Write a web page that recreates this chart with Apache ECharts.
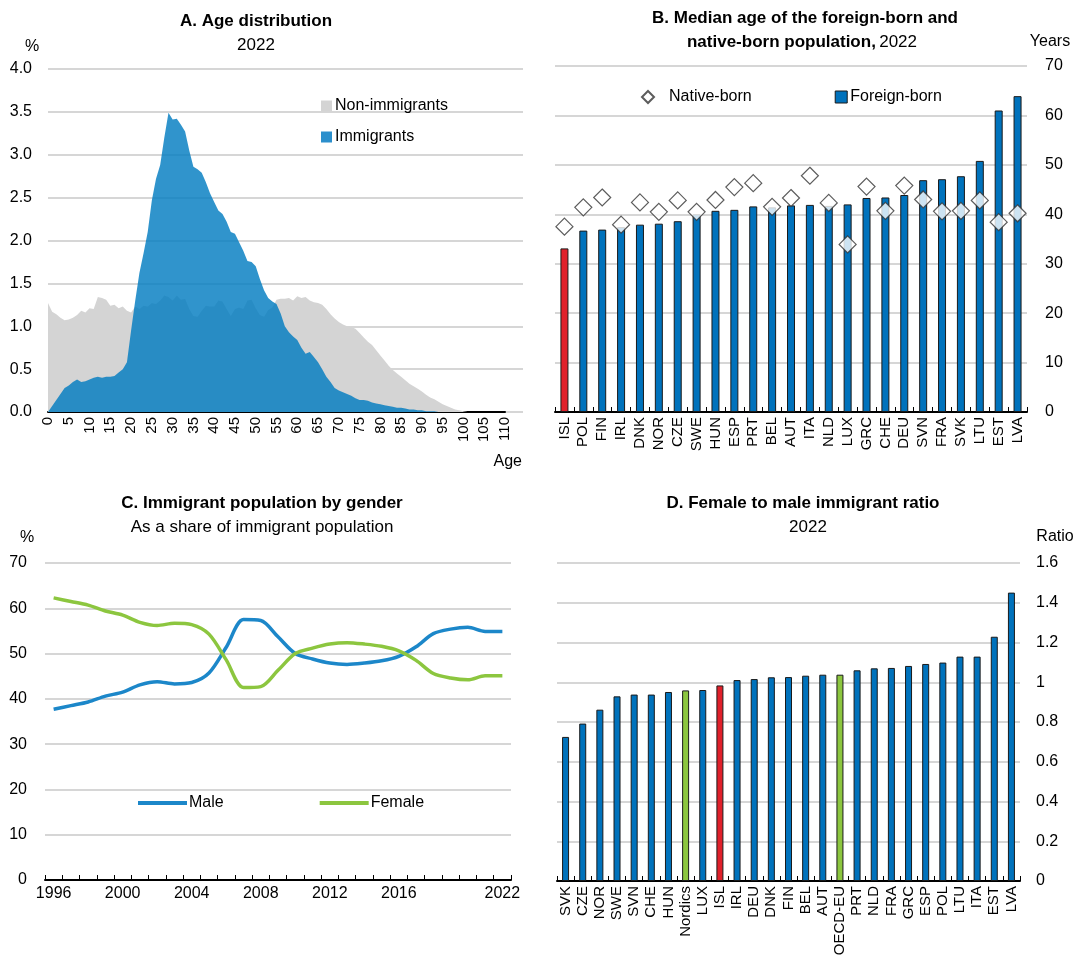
<!DOCTYPE html>
<html>
<head>
<meta charset="utf-8">
<script src="https://cdn.jsdelivr.net/npm/echarts@6/dist/echarts.min.js"></script>
<style>
  html, body { margin: 0; padding: 0; background: #fff; }
  #main { width: 1080px; height: 960px; }
</style>
</head>
<body>
<div id="main"></div>
<script>
// A. age distribution (% of each population, by single year of age)
const ages = Array.from({ length: 111 }, (_, i) => String(i));
const nonImmigrants = [
  1.27, 1.17, 1.14, 1.10, 1.07, 1.08, 1.10, 1.13, 1.18, 1.16,
  1.21, 1.20, 1.34, 1.33, 1.31, 1.24, 1.25, 1.21, 1.23, 1.18,
  1.16, 1.23, 1.20, 1.24, 1.23, 1.27, 1.26, 1.30, 1.36, 1.34,
  1.30, 1.36, 1.31, 1.32, 1.20, 1.12, 1.11, 1.18, 1.24, 1.23,
  1.23, 1.30, 1.29, 1.20, 1.12, 1.20, 1.22, 1.20, 1.30, 1.31,
  1.21, 1.13, 1.11, 1.19, 1.22, 1.31, 1.32, 1.32, 1.33, 1.30,
  1.35, 1.33, 1.34, 1.30, 1.28, 1.27, 1.25, 1.20, 1.14, 1.09,
  1.05, 1.02, 1.00, 0.99, 0.97, 0.92, 0.87, 0.82, 0.78, 0.72,
  0.66, 0.60, 0.54, 0.49, 0.45, 0.41, 0.37, 0.33, 0.30, 0.27,
  0.24, 0.20, 0.17, 0.15, 0.12, 0.09, 0.07, 0.05, 0.03, 0.02,
  0.01, 0, 0, 0, 0, 0, 0, 0, 0, 0, 0
];
const immigrants = [
  0.00, 0.07, 0.14, 0.21, 0.28, 0.31, 0.35, 0.38, 0.35, 0.36,
  0.38, 0.40, 0.41, 0.40, 0.41, 0.41, 0.42, 0.46, 0.50, 0.58,
  0.95, 1.30, 1.62, 1.85, 2.10, 2.47, 2.72, 2.88, 3.20, 3.49,
  3.41, 3.42, 3.35, 3.27, 3.05, 2.86, 2.83, 2.79, 2.68, 2.55,
  2.45, 2.35, 2.31, 2.22, 2.10, 2.08, 1.98, 1.88, 1.76, 1.75,
  1.70, 1.55, 1.42, 1.33, 1.29, 1.26, 1.15, 1.00, 0.93, 0.88,
  0.84, 0.75, 0.68, 0.70, 0.64, 0.58, 0.50, 0.41, 0.35, 0.28,
  0.25, 0.23, 0.21, 0.19, 0.16, 0.14, 0.14, 0.13, 0.11, 0.10,
  0.09, 0.08, 0.07, 0.06, 0.05, 0.05, 0.04, 0.03, 0.03, 0.02,
  0.02, 0.01, 0.01, 0.01, 0, 0, 0, 0, 0, 0,
  0, 0, 0, 0, 0, 0, 0, 0, 0, 0, 0
];

// B. median age (years)
const countriesB = ["ISL", "POL", "FIN", "IRL", "DNK", "NOR", "CZE", "SWE", "HUN", "ESP", "PRT", "BEL", "AUT",
  "ITA", "NLD", "LUX", "GRC", "CHE", "DEU", "SVN", "FRA", "SVK", "LTU", "EST", "LVA"];
const foreignBorn = [33.1, 36.7, 36.9, 37.4, 37.9, 38.1, 38.6, 40.0, 40.7, 40.9, 41.6, 41.4, 41.8,
  41.9, 41.7, 42.0, 43.3, 43.4, 43.9, 46.9, 47.1, 47.7, 50.8, 61.0, 63.9];
const nativeBorn = [37.5, 41.4, 43.4, 37.9, 42.4, 40.5, 42.8, 40.5, 42.9, 45.5, 46.3, 41.5, 43.3,
  47.8, 42.3, 33.9, 45.6, 40.7, 45.8, 43.0, 40.6, 40.7, 42.8, 38.4, 40.2];

// C. immigrant population by gender (% of immigrants)
const years = ["1996", "1997", "1998", "1999", "2000", "2001", "2002", "2003", "2004", "2005", "2006", "2007", "2008",
  "2009", "2010", "2011", "2012", "2013", "2014", "2015", "2016", "2017", "2018", "2019", "2020", "2021", "2022"];
const male = [37.7, 38.5, 39.3, 40.6, 41.5, 43.1, 43.8, 43.3, 43.6, 45.7, 51.4, 57.5, 57.3,
  53.7, 50.0, 48.8, 47.9, 47.6, 47.9, 48.4, 49.4, 51.5, 54.4, 55.4, 55.8, 54.9, 54.9];
const female = [62.3, 61.5, 60.7, 59.4, 58.5, 56.9, 56.2, 56.7, 56.4, 54.3, 48.6, 42.5, 42.7,
  46.3, 50.0, 51.2, 52.1, 52.4, 52.1, 51.6, 50.6, 48.5, 45.6, 44.6, 44.2, 45.1, 45.1];
const yearTicks = ["1996", "2000", "2004", "2008", "2012", "2016", "2022"];

// D. female to male immigrant ratio
const countriesD = ["SVK", "CZE", "NOR", "SWE", "SVN", "CHE", "HUN", "Nordics", "LUX", "ISL", "IRL", "DEU", "DNK",
  "FIN", "BEL", "AUT", "OECD-EU", "PRT", "NLD", "FRA", "GRC", "ESP", "POL", "LTU", "ITA", "EST", "LVA"];
const ratio = [0.725, 0.792, 0.862, 0.929, 0.938, 0.938, 0.951, 0.959, 0.961, 0.984, 1.011, 1.016, 1.025,
  1.026, 1.033, 1.038, 1.038, 1.060, 1.070, 1.072, 1.082, 1.092, 1.099, 1.129, 1.129, 1.229, 1.451];

const FONT = '"Liberation Sans", Arial, sans-serif';
const BLUE = "#0072bc";
const RED = "#e0202a";
const GREEN = "#8cc63f";
const GRID_LINE = { show: true, lineStyle: { color: "#c8c8c8", width: 1.5 } };
const BLACK_AXIS = { show: true, lineStyle: { color: "#000", width: 2 } };

function barColor(name) {
  if (name === "ISL") return RED;
  if (name === "Nordics" || name === "OECD-EU") return GREEN;
  return BLUE;
}

function txt(x, y, text, opts) {
  return {
    type: "text", x: x, y: y,
    style: Object.assign({
      text: text, font: "16px " + FONT, fill: "#000",
      textAlign: "center", textVerticalAlign: "middle"
    }, opts || {})
  };
}

const chart = echarts.init(document.getElementById("main"), null, { renderer: "canvas" });

const option = {
  animation: false,
  backgroundColor: "#fff",
  textStyle: { fontFamily: FONT, color: "#000" },
  grid: [
    { left: 48, top: 69, width: 457, height: 343 },   // A data
    { left: 48, top: 69, width: 475, height: 343 },   // A gridlines
    { left: 555, top: 66, width: 472, height: 346 },  // B
    { left: 45, top: 563, width: 466, height: 317 },  // C
    { left: 557, top: 563, width: 463, height: 318 }  // D
  ],
  xAxis: [
    {
      gridIndex: 0, type: "category", data: ages, boundaryGap: false,
      axisLine: BLACK_AXIS, axisTick: { show: false },
      axisLabel: { interval: 4, rotate: 90, fontSize: 15, color: "#000", margin: 5 },
      splitLine: { show: false }
    },
    { gridIndex: 1, type: "value", show: false },
    {
      gridIndex: 2, type: "category", data: countriesB,
      axisLine: BLACK_AXIS,
      axisTick: { show: true, inside: true, length: 5, lineStyle: { color: "#000" } },
      axisLabel: { interval: 0, rotate: 90, fontSize: 15, color: "#000", margin: 5 }
    },
    {
      gridIndex: 3, type: "category", data: years,
      axisLine: BLACK_AXIS,
      axisTick: { show: true, inside: true, length: 5, interval: 0, lineStyle: { color: "#000" } },
      axisLabel: {
        fontSize: 16, color: "#000", margin: 6,
        interval: (i, v) => yearTicks.includes(v)
      }
    },
    {
      gridIndex: 4, type: "category", data: countriesD,
      axisLine: BLACK_AXIS,
      axisTick: { show: true, inside: true, length: 5, lineStyle: { color: "#000" } },
      axisLabel: { interval: 0, rotate: 90, fontSize: 15, color: "#000", margin: 5 }
    }
  ],
  yAxis: [
    {
      gridIndex: 0, type: "value", min: 0, max: 4, interval: 0.5,
      axisLine: { show: false }, axisTick: { show: false },
      axisLabel: { fontSize: 16, color: "#000", margin: 16, formatter: v => v.toFixed(1) },
      splitLine: { show: false }
    },
    {
      gridIndex: 1, type: "value", min: 0, max: 4, interval: 0.5,
      axisLine: { show: false }, axisTick: { show: false }, axisLabel: { show: false },
      splitLine: GRID_LINE, z: 0
    },
    {
      gridIndex: 2, type: "value", position: "right", min: 0, max: 70, interval: 10,
      axisLine: { show: false }, axisTick: { show: false },
      axisLabel: { fontSize: 16, color: "#000", margin: 18 },
      splitLine: GRID_LINE
    },
    {
      gridIndex: 3, type: "value", min: 0, max: 70, interval: 10,
      axisLine: { show: false }, axisTick: { show: false },
      axisLabel: { fontSize: 16, color: "#000", margin: 18 },
      splitLine: GRID_LINE
    },
    {
      gridIndex: 4, type: "value", position: "right", min: 0, max: 1.6, interval: 0.2,
      axisLine: { show: false }, axisTick: { show: false },
      axisLabel: { fontSize: 16, color: "#000", margin: 16, formatter: v => (v === 0 || v === 1) ? String(v) : v.toFixed(1) },
      splitLine: GRID_LINE
    }
  ],
  legend: [
    {
      data: ["Non-immigrants", "Immigrants"], orient: "vertical",
      left: 316, top: 93, itemWidth: 11, itemHeight: 11, itemGap: 15,
      icon: "rect", textStyle: { fontSize: 16, color: "#000", padding: [0, 0, 0, -2] }
    },
    {
      data: [
        { name: "Native-born", textStyle: { padding: [0, 0, 0, 10] } },
        {
          name: "Foreign-born", icon: "rect",
          itemStyle: { color: BLUE, borderColor: "#1a1a1a", borderWidth: 1 },
          textStyle: { padding: [0, 0, 0, -2] }
        }
      ],
      orient: "horizontal",
      left: 636, top: 84, itemWidth: 12, itemHeight: 12, itemGap: 83,
      textStyle: { fontSize: 16, color: "#000" }
    },
    {
      data: ["Male", "Female"], orient: "horizontal",
      left: 133, top: 790, itemWidth: 49, itemHeight: 4, itemGap: 96,
      icon: "rect", textStyle: { fontSize: 16, color: "#000", padding: [0, 0, 0, -3] }
    }
  ],
  series: [
    {
      name: "Non-immigrants", type: "line", xAxisIndex: 0, yAxisIndex: 0,
      data: nonImmigrants, showSymbol: false, symbol: "none",
      lineStyle: { width: 0 }, itemStyle: { color: "#d4d4d4" },
      areaStyle: { color: "#d4d4d4", opacity: 1 }, z: 2
    },
    {
      name: "Immigrants", type: "line", xAxisIndex: 0, yAxisIndex: 0,
      data: immigrants, showSymbol: false, symbol: "none",
      lineStyle: { width: 0 }, itemStyle: { color: "#2b8fcc" },
      areaStyle: { color: "rgb(3,125,193)", opacity: 0.82 }, z: 3
    },
    {
      name: "Foreign-born", type: "bar", xAxisIndex: 2, yAxisIndex: 2,
      data: foreignBorn, barWidth: 8,
      itemStyle: {
        color: p => barColor(p.name),
        borderColor: "#1a1a1a", borderWidth: 1
      }
    },
    {
      name: "Native-born", type: "scatter", xAxisIndex: 2, yAxisIndex: 2,
      data: nativeBorn, symbol: "diamond", symbolSize: [17, 17],
      itemStyle: { color: "#fff", borderColor: "#333", borderWidth: 1.2 }, z: 5
    },
    {
      name: "Male", type: "line", xAxisIndex: 3, yAxisIndex: 3,
      data: male, showSymbol: false, symbol: "none", smooth: 0.3,
      lineStyle: { width: 3.5, color: "#1c87c9" }, itemStyle: { color: "#1c87c9" }
    },
    {
      name: "Female", type: "line", xAxisIndex: 3, yAxisIndex: 3,
      data: female, showSymbol: false, symbol: "none", smooth: 0.3,
      lineStyle: { width: 3.5, color: "#8cc63f" }, itemStyle: { color: "#8cc63f" }
    },
    {
      name: "Ratio", type: "bar", xAxisIndex: 4, yAxisIndex: 4,
      data: ratio, barWidth: 7,
      itemStyle: {
        color: p => barColor(p.name),
        borderColor: "#1a1a1a", borderWidth: 1
      }
    }
  ],
  graphic: [
    // panel titles
    txt(256, 21, "A. Age distribution", { font: "bold 17px " + FONT }),
    txt(256, 45, "2022", { font: "17px " + FONT }),
    txt(805, 18, "B. Median age of the foreign-born and", { font: "bold 17px " + FONT }),
    {
      type: "text", x: 802, y: 42,
      style: {
        text: "{b|native-born population,} {r|2022}",
        textAlign: "center", textVerticalAlign: "middle",
        rich: {
          b: { fontFamily: FONT, fontSize: 17, fontWeight: "bold", fill: "#000" },
          r: { fontFamily: FONT, fontSize: 17, fill: "#000" }
        }
      }
    },
    txt(262, 503, "C. Immigrant population by gender", { font: "bold 17px " + FONT }),
    txt(262, 527, "As a share of immigrant population", { font: "17px " + FONT }),
    txt(803, 503, "D. Female to male immigrant ratio", { font: "bold 17px " + FONT }),
    txt(808, 527, "2022", { font: "17px " + FONT }),
    // unit labels
    txt(32, 47, "%"),
    txt(1050, 42, "Years"),
    txt(27, 538, "%"),
    txt(1055, 537, "Ratio"),
    txt(522, 462, "Age", { textAlign: "right" })
  ]
};

chart.setOption(option);
</script>
</body>
</html>
